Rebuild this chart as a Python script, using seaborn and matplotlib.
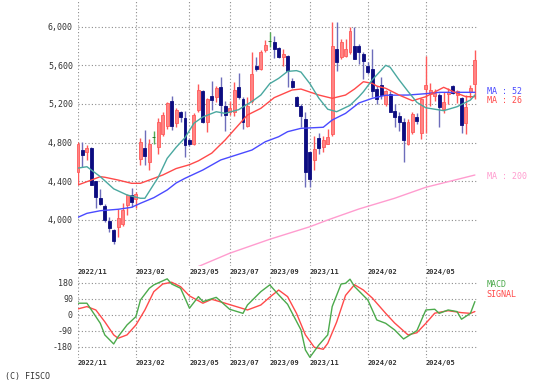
import matplotlib
matplotlib.use("Agg")
import matplotlib.pyplot as plt
import seaborn as sns
import pandas as pd

# ---------------- data (weekly candles, index = week number) ----------------
opens = [4493, 4724, 4700, 4745, 4400, 4228, 4140, 3990, 3897, 3924,
         3960, 4148, 4259, 4210, 4631, 4745, 4597, 4855, 4752, 4890,
         4976, 5234, 5003, 5114, 5055, 4831, 4786, 5134, 5334, 5017,
         5286, 5269, 5379, 5176, 5120, 5114, 5379, 5252, 4976, 5234,
         5597, 5562, 5759, 5848, 5840, 5776, 5683, 5700, 5441, 5269,
         5183, 5045, 4700, 4614, 4850, 4752, 4786, 4890, 5769, 5683,
         5700, 5734, 5803, 5803, 5717, 5597, 5562, 5355, 5400, 5200,
         5303, 5131, 5079, 5017, 4786, 4907, 5062, 4900, 5350, 5300,
         5280, 5290, 5150, 5300, 5390, 5290, 5260, 5000, 5320, 5410]
highs = [4810, 4803, 4770, 4755, 4405, 4320, 4165, 4025, 3907, 4114,
         4176, 4269, 4328, 4286, 4845, 4931, 4838, 4924, 5052, 5114,
         5224, 5279, 5155, 5131, 5131, 4850, 5107, 5403, 5341, 5262,
         5441, 5390, 5483, 5234, 5230, 5424, 5521, 5269, 5269, 5741,
         5683, 5762, 5866, 5948, 5900, 5790, 5769, 5710, 5470, 5280,
         5200, 5114, 4717, 4872, 4900, 4872, 4941, 6045, 6045, 5872,
         5872, 5993, 5993, 5821, 5734, 5631, 5769, 5390, 5480, 5340,
         5338, 5200, 5114, 5052, 5045, 5114, 5107, 5260, 5700, 5420,
         5350, 5310, 5320, 5360, 5400, 5340, 5270, 5290, 5400, 5760]
lows = [4372, 4545, 4620, 4355, 4125, 4150, 3975, 3870, 3752, 3820,
        3931, 4045, 4131, 4121, 4572, 4562, 4510, 4786, 4683, 4872,
        4945, 4934, 4959, 5017, 4648, 4760, 4769, 5117, 5003, 4914,
        5138, 5224, 5079, 4924, 5080, 5079, 5252, 4941, 4959, 5210,
        5545, 5555, 5741, 5793, 5680, 5672, 5597, 5372, 5360, 5180,
        4959, 4338, 4338, 4510, 4680, 4700, 4786, 4872, 5545, 5666,
        5683, 5717, 5666, 5614, 5459, 5510, 5269, 5200, 5250, 5180,
        5114, 4959, 4924, 4597, 4769, 4890, 4993, 4840, 4900, 5180,
        5230, 4960, 5110, 5200, 5300, 5210, 4900, 4890, 5260, 5250]
closes = [4786, 4666, 4745, 4362, 4240, 4165, 4000, 3915, 3780, 4017,
          4104, 4252, 4183, 4262, 4803, 4659, 4786, 4855, 5017, 5086,
          5207, 4976, 5141, 5062, 4776, 4786, 5090, 5341, 5010, 5252,
          5241, 5362, 5190, 5086, 5160, 5348, 5269, 5017, 5183, 5510,
          5562, 5741, 5814, 5848, 5770, 5689, 5717, 5545, 5372, 5183,
          5079, 4493, 4424, 4735, 4740, 4821, 4855, 5803, 5631, 5838,
          5769, 5959, 5666, 5734, 5648, 5528, 5338, 5252, 5290, 5338,
          5114, 5062, 5010, 4821, 5010, 5097, 5028, 5250, 5400, 5340,
          5310, 5170, 5220, 5320, 5310, 5330, 4980, 5170, 5370, 5650]

ma13_wk = [0, 2, 5, 8, 11, 14, 15, 18, 20, 22, 24, 26, 28, 31, 33, 36, 39, 41,
           43, 45, 47, 49, 50, 52, 54, 56, 58, 61, 63, 64, 66, 67, 69, 70, 72,
           74, 76, 78, 82, 85, 88, 89]
ma13_val = [4535, 4549, 4446, 4320, 4256, 4222, 4222, 4440, 4636, 4750, 4850,
            5000, 5065, 5119, 5102, 5140, 5225, 5292, 5410, 5465, 5537, 5545,
            5530, 5410, 5260, 5145, 5119, 5185, 5275, 5326, 5450, 5500, 5600,
            5580, 5450, 5330, 5216, 5160, 5130, 5171, 5240, 5292]

ma26_wk = [0, 3, 5, 6, 9, 12, 14, 16, 19, 22, 25, 27, 30, 33, 35, 38, 41, 44,
           48, 50, 54, 57, 60, 62, 64, 66, 67, 69, 72, 75, 78, 82, 85, 87, 89]
ma26_val = [4360, 4411, 4446, 4440, 4411, 4377, 4377, 4411, 4463, 4530, 4570,
            4610, 4690, 4826, 4930, 5085, 5154, 5265, 5344, 5354, 5292, 5258,
            5292, 5354, 5430, 5413, 5385, 5362, 5292, 5233, 5275, 5372, 5310,
            5275, 5275]

ma52_wk = [0, 2, 5, 9, 12, 14, 17, 20, 22, 24, 28, 32, 36, 39, 42, 45, 47, 50,
           55, 57, 60, 63, 66, 69, 74, 78, 81, 89]
ma52_val = [4025, 4066, 4093, 4108, 4128, 4170, 4228, 4308, 4380, 4429, 4515,
            4619, 4678, 4722, 4808, 4860, 4912, 4947, 4958, 5033, 5102, 5210,
            5258, 5290, 5292, 5306, 5320, 5320]

ma200_wk = [27, 34, 43, 52, 56, 63, 71, 78, 89]
ma200_val = [3515, 3652, 3797, 3927, 3997, 4111, 4222, 4336, 4463]

macd_wk = [0, 2, 5, 6, 8, 9, 11, 13, 14, 16, 17, 20, 21, 23, 25, 27, 28, 31,
           34, 37, 38, 41, 43, 45, 47, 50, 51, 52, 54, 56, 57, 59, 60, 61, 62,
           65, 67, 69, 71, 73, 76, 78, 80, 81, 83, 85, 86, 88, 89]
macd_val = [66, 66, -47, -112, -163, -122, -56, -9, 84, 150, 169, 203, 174,
            150, 38, 103, 75, 99, 32, 9, 56, 131, 169, 113, 60, -84, -197,
            -238, -169, -112, 47, 174, 178, 201, 160, 84, -28, -47, -84, -135,
            -88, 28, 32, 9, 28, 19, -24, 9, 75]

signal_wk = [0, 2, 4, 6, 8, 9, 11, 13, 15, 17, 19, 21, 23, 25, 28, 30, 33, 38,
             41, 43, 45, 47, 49, 51, 53, 55, 56, 58, 60, 62, 64, 66, 69, 71,
             74, 76, 78, 80, 83, 86, 88, 89]
signal_val = [34, 47, 28, -38, -112, -131, -112, -56, 28, 131, 174, 184, 159,
              107, 66, 88, 66, 28, 56, 100, 140, 103, 9, -112, -182, -193,
              -160, -40, 110, 170, 140, 95, 9, -45, -112, -100, -47, 10, 24,
              13, 9, 19]

month_ticks = [0, 13, 25, 34, 43, 52, 65, 78]
month_labels = ["2022/11", "2023/02", "2023/05", "2023/07", "2023/09",
                "2023/11", "2024/02", "2024/05"]
price_ticks = [4000, 4400, 4800, 5200, 5600, 6000]
price_labels = ["4,000", "4,400", "4,800", "5,200", "5,600", "6,000"]
macd_ticks = [-180, -90, 0, 90, 180]

# ---------------- style ----------------
sns.set_style("white")
plt.rcParams['font.family'] = ['DejaVu Sans Mono', 'DejaVu Sans']

W, H = 544, 386
fig = plt.figure(figsize=(W / 100, H / 100), dpi=100)
ax = fig.add_axes([78 / W, 1 - 266 / H, 400 / W, 266 / H])
ax2 = fig.add_axes([78 / W, 1 - 358 / H, 400 / W, 82 / H])

GRID = dict(color="#8c8c8c", linestyle=(0, (1, 2)), linewidth=0.8)
for a in (ax, ax2):
    for s in a.spines.values():
        s.set_visible(False)
    a.set_xlim(0, 89.7)
    a.grid(True, **GRID)
    a.set_axisbelow(True)
    a.tick_params(axis="both", length=0, labelsize=6, labelcolor="#333333")

# ---------------- candles ----------------
df = pd.DataFrame({"wk": range(len(opens)), "o": opens, "h": highs,
                   "l": lows, "c": closes})
body_col, edge_col, wick_col = [], [], []
for o, c in zip(df.o, df.c):
    if c > o:
        body_col.append("#ff8484"); edge_col.append("#ff5a5a"); wick_col.append("#ff5a5a")
    elif c < o:
        body_col.append("#0c0c80"); edge_col.append("#0c0c80"); wick_col.append("#6d6dbb")
    else:
        body_col.append("#1a6e1a"); edge_col.append("#1a6e1a"); wick_col.append("#55aa55")

ax.vlines(df.wk, df.l, df.h, colors=wick_col, linewidth=1.0, zorder=2)
bottoms = df[["o", "c"]].min(axis=1)
heights = (df.o - df.c).abs()
ax.bar(df.wk, heights, bottom=bottoms, width=0.66, color=body_col,
       edgecolor=edge_col, linewidth=0.6, zorder=3, clip_on=False)

# ---------------- moving averages ----------------
sns.lineplot(x=ma52_wk, y=ma52_val, ax=ax, color="#4a4aff", linewidth=1.0, zorder=4)
sns.lineplot(x=ma26_wk, y=ma26_val, ax=ax, color="#ff4a4a", linewidth=1.0, zorder=4)
sns.lineplot(x=ma13_wk, y=ma13_val, ax=ax, color="#4aa8a0", linewidth=1.0, zorder=4)
sns.lineplot(x=ma200_wk, y=ma200_val, ax=ax, color="#ff9ccf", linewidth=1.0, zorder=4)

ax.set_ylim(3520, 6277)
ax.set_yticks(price_ticks, price_labels)
ax.set_xticks(month_ticks, month_labels)
ax.tick_params(axis="y", pad=3.6)
ax.tick_params(axis="x", pad=2.3, labelsize=5)
for t in ax.get_xticklabels():
    t.set_horizontalalignment("left")
    t.set_fontweight("bold")
    t.set_color("#333333")
ax.set_xlabel(""); ax.set_ylabel("")

ax.text(1.022, 0.656, "MA : 52", transform=ax.transAxes, color="#4a4aff",
        fontsize=6, va="center", ha="left")
ax.text(1.022, 0.622, "MA : 26", transform=ax.transAxes, color="#ff4a4a",
        fontsize=6, va="center", ha="left")
ax.text(1.022, 0.335, "MA : 200", transform=ax.transAxes, color="#ff9ccf",
        fontsize=6, va="center", ha="left")

# ---------------- MACD ----------------
sns.lineplot(x=signal_wk, y=signal_val, ax=ax2, color="#ff4a4a", linewidth=1.0)
sns.lineplot(x=macd_wk, y=macd_val, ax=ax2, color="#4caa4c", linewidth=1.0)
ax2.set_ylim(-242, 219)
ax2.set_yticks(macd_ticks, [str(v) for v in macd_ticks])
ax2.set_xticks(month_ticks, month_labels)
ax2.tick_params(axis="y", pad=3.6)
ax2.tick_params(axis="x", pad=1.8, labelsize=5)
for t in ax2.get_xticklabels():
    t.set_horizontalalignment("left")
    t.set_fontweight("bold")
    t.set_color("#333333")
ax2.set_xlabel(""); ax2.set_ylabel("")
ax2.text(1.022, 0.902, "MACD", transform=ax2.transAxes, color="#4caa4c",
         fontsize=6, va="center", ha="left")
ax2.text(1.022, 0.780, "SIGNAL", transform=ax2.transAxes, color="#ff4a4a",
         fontsize=6, va="center", ha="left")

fig.text(5 / W, 1 - 376 / H, "(C) FISCO", fontsize=6, color="#333333",
         va="center", ha="left")

fig.savefig("out.png", dpi=100)
